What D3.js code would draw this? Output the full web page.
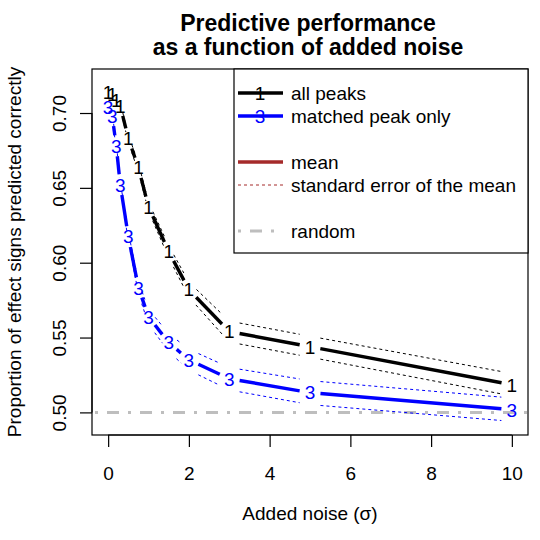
<!DOCTYPE html>
<html>
<head>
<meta charset="utf-8">
<script src="https://cdn.jsdelivr.net/npm/d3@7"></script>
<style>
  body { margin: 0; background: #fff; }
  text { font-family: "Liberation Sans", Arial, sans-serif; }
</style>
</head>
<body>
<div class="chart"></div>
<script>
// values
const noise = [0, 0.1, 0.2, 0.3, 0.5, 0.75, 1, 1.5, 2, 3, 5, 10];
const allPeaks = [0.7136, 0.7123, 0.7089, 0.7049, 0.6829, 0.6635, 0.6374, 0.6074, 0.5820, 0.5540, 0.5439, 0.5185];
const allPeaksSE = [0.0015, 0.0015, 0.002, 0.002, 0.0025, 0.003, 0.003, 0.004, 0.005, 0.007, 0.007, 0.0075];
const matchedPeak = [0.7042, 0.6982, 0.6781, 0.6521, 0.6174, 0.5833, 0.5639, 0.5466, 0.5352, 0.5225, 0.5132, 0.5018];
const matchedPeakSE = [0.0015, 0.0015, 0.002, 0.002, 0.003, 0.004, 0.005, 0.006, 0.007, 0.0075, 0.008, 0.0078];
const randomLevel = 0.5;
const xTicks = [0, 2, 4, 6, 8, 10];
const yTicks = [0.50, 0.55, 0.60, 0.65, 0.70];
const legendLabels = ['all peaks', 'matched peak only', '', 'mean', 'standard error of the mean', '', 'random'];

const W = 540, H = 540;
const m = {left: 92, right: 12, top: 69, bottom: 105};

const svg = d3.select('.chart').append('svg')
    .attr('width', W)
    .attr('height', H);
svg.append('rect').attr('width', W).attr('height', H).attr('fill', '#fff');

const x = d3.scaleLinear().domain([-0.4, 10.4]).range([m.left, W - m.right]);
const y = d3.scaleLinear().domain([0.4849, 0.7294]).range([H - m.bottom, m.top]);

// R type="b": segments stop short of each point
const gap = 10.5;
function gappedSegments(xs, ys) {
    const segs = [];
    for (let i = 0; i < xs.length - 1; i++) {
        const x0 = x(xs[i]), y0 = y(ys[i]), x1 = x(xs[i + 1]), y1 = y(ys[i + 1]);
        const d = Math.hypot(x1 - x0, y1 - y0);
        if (d <= 2 * gap) continue;
        const ux = (x1 - x0) / d, uy = (y1 - y0) / d;
        segs.push([[x0 + gap * ux, y0 + gap * uy], [x1 - gap * ux, y1 - gap * uy]]);
    }
    return segs;
}

const plot = svg.append('g');

// random level
plot.append('line')
    .attr('x1', x(-0.4) + 3).attr('x2', x(10.4))
    .attr('y1', y(randomLevel)).attr('y2', y(randomLevel))
    .attr('stroke', '#bebebe').attr('stroke-width', 3)
    .attr('stroke-dasharray', '3 9 12 9');

const series = [
    {v: allPeaks, se: allPeaksSE, color: '#000', pch: '1'},
    {v: matchedPeak, se: matchedPeakSE, color: '#0000ff', pch: '3'}
];

series.forEach(s => {
    const upper = s.v.map((d, i) => d + s.se[i]);
    const lower = s.v.map((d, i) => d - s.se[i]);
    [upper, lower].forEach(band => {
        plot.append('g').selectAll('line')
            .data(gappedSegments(noise, band))
            .join('line')
            .attr('x1', d => d[0][0]).attr('y1', d => d[0][1])
            .attr('x2', d => d[1][0]).attr('y2', d => d[1][1])
            .attr('stroke', s.color).attr('stroke-width', 1)
            .attr('stroke-dasharray', '3 3');
    });
    plot.append('g').selectAll('line')
        .data(gappedSegments(noise, s.v))
        .join('line')
        .attr('x1', d => d[0][0]).attr('y1', d => d[0][1])
        .attr('x2', d => d[1][0]).attr('y2', d => d[1][1])
        .attr('stroke', s.color).attr('stroke-width', 3.4);
    plot.append('g').selectAll('text')
        .data(noise.map((n, i) => [n, s.v[i]]))
        .join('text')
        .attr('x', d => x(d[0]))
        .attr('y', d => y(d[1]))
        .attr('dy', '0.36em')
        .attr('text-anchor', 'middle')
        .attr('font-size', 19)
        .attr('fill', s.color)
        .text(s.pch);
});

// box
svg.append('rect')
    .attr('x', m.left).attr('y', m.top)
    .attr('width', W - m.left - m.right).attr('height', H - m.top - m.bottom)
    .attr('fill', 'none').attr('stroke', '#000').attr('stroke-width', 1.2);

// axes
const xAxis = svg.append('g')
    .attr('transform', `translate(0,${H - m.bottom})`)
    .call(d3.axisBottom(x).tickValues(xTicks).tickSize(12).tickPadding(20).tickSizeOuter(0));
xAxis.select('.domain').attr('d', `M${x(0)},0H${x(10)}`).attr('stroke-width', 1.2);
xAxis.selectAll('text').attr('font-size', 19).attr('fill', '#000')
    .style('font-family', '"Liberation Sans", Arial, sans-serif');
xAxis.selectAll('.tick line').attr('stroke-width', 1.2);

const yAxis = svg.append('g')
    .attr('transform', `translate(${m.left},0)`)
    .call(d3.axisLeft(y).tickValues(yTicks).tickSize(12).tickFormat(d3.format('.2f')).tickSizeOuter(0));
yAxis.select('.domain').attr('d', `M0,${y(0.5)}V${y(0.7)}`).attr('stroke-width', 1.2);
yAxis.selectAll('.tick line').attr('stroke-width', 1.2);
yAxis.selectAll('text')
    .attr('font-size', 19).attr('fill', '#000')
    .style('font-family', '"Liberation Sans", Arial, sans-serif')
    .attr('text-anchor', 'middle')
    .attr('x', null).attr('dy', null)
    .attr('transform', 'translate(-26,0) rotate(-90)');

// titles
const cx = (m.left + W - m.right) / 2 - 2;
svg.append('text')
    .attr('x', cx).attr('y', 31)
    .attr('text-anchor', 'middle').attr('font-size', 23).attr('font-weight', 'bold')
    .text('Predictive performance');
svg.append('text')
    .attr('x', cx).attr('y', 55)
    .attr('text-anchor', 'middle').attr('font-size', 23).attr('font-weight', 'bold')
    .text('as a function of added noise');
svg.append('text')
    .attr('x', cx + 2).attr('y', 520)
    .attr('text-anchor', 'middle').attr('font-size', 19)
    .text('Added noise (σ)');
svg.append('text')
    .attr('transform', `translate(21,${(m.top + H - m.bottom) / 2}) rotate(-90)`)
    .attr('text-anchor', 'middle').attr('font-size', 19)
    .text('Proportion of effect signs predicted correctly');

// legend
const lg = svg.append('g');
const lgX = 234, lgTop = m.top, rowH = 23, row0 = 93;
lg.append('rect')
    .attr('x', lgX).attr('y', lgTop)
    .attr('width', W - m.right - lgX).attr('height', 184)
    .attr('fill', '#fff').attr('stroke', '#000').attr('stroke-width', 1.2);

const legendStyles = [
    {stroke: '#000', w: 3.4, dash: null, pch: '1'},
    {stroke: '#0000ff', w: 3.4, dash: null, pch: '3'},
    null,
    {stroke: '#a52a2a', w: 3.4, dash: null},
    {stroke: '#a52a2a', w: 1, dash: '3 3'},
    null,
    {stroke: '#bebebe', w: 3, dash: '3 9 12 9'}
];
legendLabels.forEach((lab, i) => {
    const ry = row0 + i * rowH;
    const st = legendStyles[i];
    if (st) {
        lg.append('line')
            .attr('x1', 238).attr('x2', 283).attr('y1', ry).attr('y2', ry)
            .attr('stroke', st.stroke).attr('stroke-width', st.w)
            .attr('stroke-dasharray', st.dash);
        if (st.pch) {
            lg.append('text')
                .attr('x', 260).attr('y', ry).attr('dy', '0.36em')
                .attr('text-anchor', 'middle').attr('font-size', 19)
                .attr('fill', st.stroke).text(st.pch);
        }
    }
    if (lab) {
        lg.append('text')
            .attr('x', 291).attr('y', ry).attr('dy', '0.36em')
            .attr('font-size', 19).text(lab);
    }
});
</script>
</body>
</html>
